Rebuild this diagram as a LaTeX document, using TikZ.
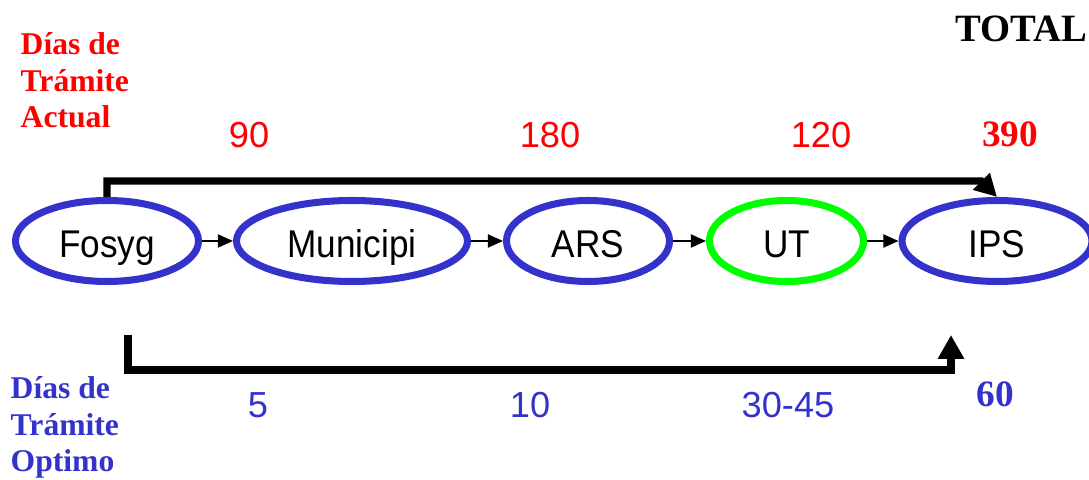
\documentclass[tikz,border=0pt]{standalone}
\usepackage{fontspec}
\setmainfont{Liberation Serif}
\newfontfamily\ovalfont[FakeStretch=0.91]{Liberation Sans}
\newfontfamily\numfont{Liberation Sans}
\usetikzlibrary{arrows.meta}
\usetikzlibrary{shapes.geometric}
\definecolor{ovalblue}{RGB}{51,51,204}
\definecolor{utgreen}{RGB}{0,255,0}
\definecolor{diasred}{RGB}{255,0,0}

\begin{document}
\begin{tikzpicture}[
	oval/.style={ellipse, draw=ovalblue, line width=2pt, inner sep=0pt,
		minimum height=0.81cm, text height=9.6pt, text depth=0pt,
		font=\ovalfont\fontsize{11}{13}\selectfont},
	paso/.style={-{Triangle[length=4.3pt,width=3.7pt]}, line width=0.6pt},
	bracket/.style={line width=2.1pt, line join=miter},
	dias/.style={anchor=base west, align=left, inner sep=0pt,
		font=\bfseries\fontsize{9}{10.5}\selectfont},
	cifra/.style={anchor=base, inner sep=0pt, font=\numfont\fontsize{10.3}{12}\selectfont},
	total/.style={anchor=base, inner sep=0pt, font=\bfseries\fontsize{10.6}{12}\selectfont}]
	\useasboundingbox (0,0) rectangle (10.89,4.80);

	\node[oval, minimum width=1.83cm] (fosyg) at (1.07,2.39) {Fosyg};
	\node[oval, minimum width=2.31cm] (municipi) at (3.52,2.39) {Municipi};
	\node[oval, minimum width=1.63cm] (ars) at (5.88,2.39) {ARS};
	\node[oval, draw=utgreen, minimum width=1.54cm] (ut) at (7.865,2.39) {UT};
	\node[oval, minimum width=1.90cm] (ips) at (9.97,2.39) {IPS};

	\draw[paso] (fosyg) -- (municipi);
	\draw[paso] (municipi) -- (ars);
	\draw[paso] (ars) -- (ut);
	\draw[paso] (ut) -- (ips);

	\node[dias, text=diasred] (actual) at (0.20,3.52) {Días de\\Trámite\\Actual};
	\node[dias, text=ovalblue] (optimo) at (0.10,0.08) {Días de\\Trámite\\Optimo};

	\node[total, font=\bfseries\fontsize{11}{13}\selectfont] (total) at (10.21,4.38) {TOTAL};

	\node[cifra, text=diasred] (act1) at (2.49,3.32) {90};
	\node[cifra, text=diasred] (act2) at (5.50,3.32) {180};
	\node[cifra, text=diasred] (act3) at (8.21,3.32) {120};
	\node[total, text=diasred] (acttot) at (10.10,3.33) {390};

	\node[cifra, text=ovalblue] (opt1) at (2.58,0.62) {5};
	\node[cifra, text=ovalblue] (opt2) at (5.30,0.62) {10};
	\node[cifra, text=ovalblue] (opt3) at (7.88,0.62) {30-45};
	\node[total, text=ovalblue] (opttot) at (9.95,0.73) {60};

	\coordinate (actbend) at (9.81,2.99);
	\draw[bracket, -{Triangle[length=6.3pt,width=6.4pt]}] (fosyg.north) |- (actbend) -- (ips.north);

	\coordinate (optstart) at (1.28,1.45);
	\coordinate (optlow) at (1.28,1.10);
	\coordinate (optend) at (9.51,1.45);
	\draw[bracket, -{Triangle[length=6.8pt,width=7.1pt]}] (optstart) -- (optlow) -| (optend);
\end{tikzpicture}
\end{document}
